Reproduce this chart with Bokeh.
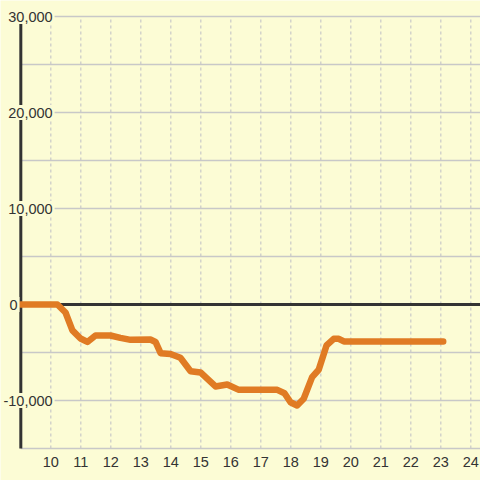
from bokeh.plotting import figure
from bokeh.models import Range1d, ColumnDataSource
from bokeh.core.properties import value
from bokeh.embed import file_html
from bokeh.resources import INLINE

# ---- data ----
hours = [9.0, 10.22, 10.49, 10.72, 10.99, 11.22, 11.49, 11.99, 12.32, 12.66, 13.32, 13.49,
         13.66, 13.99, 14.32, 14.66, 14.99, 15.49, 15.88, 16.27, 17.55, 17.79, 17.99, 18.21,
         18.43, 18.71, 18.93, 19.19, 19.43, 19.6, 19.77, 23.08]
values = [0, 0, -830, -2700, -3540, -3900, -3230, -3230, -3470, -3680, -3650, -3900,
          -5070, -5150, -5550, -6950, -7080, -8540, -8330, -8890, -8890, -9240, -10180, -10520,
          -9820, -7570, -6800, -4270, -3570, -3570, -3850, -3850]
x_ticks = [10, 11, 12, 13, 14, 15, 16, 17, 18, 19, 20, 21, 22, 23, 24]
x_tick_labels = [str(t) for t in x_ticks]
y_grid = [-15000, -10000, -5000, 0, 5000, 10000, 15000, 20000, 25000, 30000]
y_ticks = [30000, 20000, 10000, 0, -10000]
y_tick_labels = ["30,000", "20,000", "10,000", "0", "-10,000"]

BG = "#fcfcd5"
GRID = "#c8c8c8"
DARK = "#333333"
ORANGE = "#e07b24"
FONT = value("Liberation Sans")
FS = 14.5

X0, X1 = 8.323, 24.323
Y0, Y1 = -18333, 31667
AX = 9.0
W, H = 480, 480
px_per_x = W / (X1 - X0)
px_per_y = H / (Y1 - Y0)

p = figure(width=W, height=H, x_range=Range1d(X0, X1), y_range=Range1d(Y0, Y1),
           output_backend="svg", toolbar_location=None,
           x_axis_location=None, y_axis_location=None, min_border=0)
p.grid.visible = False
p.background_fill_color = BG
p.border_fill_color = BG
p.outline_line_color = None

# horizontal grid
p.segment(x0=[AX] * len(y_grid), y0=y_grid, x1=[X1] * len(y_grid), y1=y_grid,
          line_color=GRID, line_width=1.3)
# vertical dotted grid
p.segment(x0=x_ticks, y0=[y_grid[0]] * len(x_ticks), x1=x_ticks, y1=[y_grid[-1]] * len(x_ticks),
          line_color=GRID, line_width=1.2, line_dash="3 3")

# zero line and y axis line
p.segment(x0=[AX], y0=[0], x1=[X1], y1=[0], line_color=DARK, line_width=3)
p.segment(x0=[AX], y0=[y_grid[0]], x1=[AX], y1=[y_grid[-1]], line_color=DARK, line_width=3)

# series
p.line(hours, values, line_color=ORANGE, line_width=6.5, line_join="round", line_cap="round")

# x labels
xl_y = (304 - 461.5) / 0.0096
p.text(x=x_ticks, y=[xl_y] * len(x_ticks), text=x_tick_labels, text_align="center",
       text_baseline="middle", text_font=FONT, text_font_size=f"{FS}px", text_color=DARK)

# y labels with a background box that hides the axis / grid lines beneath
cw = {",": 0.278, "-": 0.333}
def text_px(s):
    return sum(cw.get(c, 0.556) for c in s) * FS

ylx = [8.89 if lab == "0" else 10.06 for lab in y_tick_labels]
box_right = [x + 2 / px_per_x for x in ylx]
box_left = [x - (text_px(t) + 2) / px_per_x for x, t in zip(ylx, y_tick_labels)]
p.hbar(y=y_ticks, left=box_left, right=box_right, height=15 / px_per_y,
       fill_color=BG, line_color=None)
src = ColumnDataSource(dict(x=ylx, y=y_ticks, t=y_tick_labels))
p.text(x="x", y="y", text="t", source=src, text_align="right", text_baseline="middle",
       text_font=FONT, text_font_size=f"{FS}px", text_color=DARK)

open("out.html", "w").write(file_html(p, INLINE))
